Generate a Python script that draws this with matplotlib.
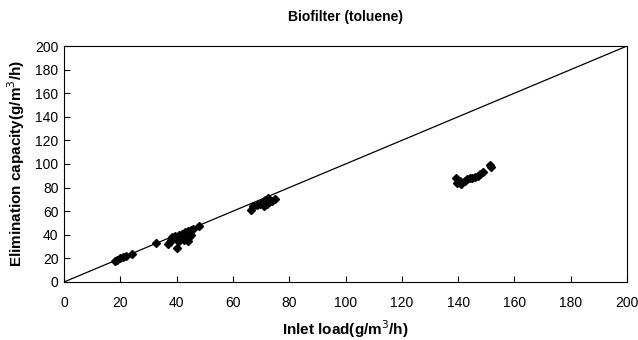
import matplotlib.pyplot as plt

plt.rcParams['font.family'] = ['Liberation Sans Narrow', 'Liberation Sans', 'DejaVu Sans']

# inlet load (g/m3/h) vs elimination capacity (g/m3/h)
inlet_load = [18, 19, 20, 21, 22, 24,
              32.7,
              37, 37.5, 38, 38.5, 39, 39.5, 40, 40, 40.5, 41, 41, 41.5, 42, 42,
              42.5, 43, 43, 43.5, 44, 44, 44.5, 45, 45, 46, 48,
              66.5, 67, 68.5, 69.5, 70.3, 71, 71.5, 72, 72.5, 73, 74, 75,
              139.3, 139.6, 140.5, 141, 142.4, 143, 144.2, 145, 146, 147, 147.8, 149, 151.3, 151.7]
elim_capacity = [17.5, 19, 20, 21.5, 22, 24,
                 33,
                 32, 34, 36, 38, 37, 39, 36, 29, 38, 40, 35, 37, 39, 41,
                 36, 38, 42, 40, 35, 43, 38, 44, 40, 45, 47.5,
                 61, 64, 65, 66, 67, 64, 69.5, 66, 71, 68, 68.6, 70,
                 88, 84, 86, 83, 85.6, 87, 88, 88.5, 89, 90, 91.5, 93, 99.2, 97.5]
line_x = [0, 200]
line_y = [0, 200]

fig = plt.figure(figsize=(6.38, 3.4), dpi=100)
ax = fig.add_axes([0.1003, 0.1706, 0.8825, 0.6941])

ax.plot(line_x, line_y, color='black', linewidth=0.9)
ax.plot(inlet_load, elim_capacity, linestyle='none', marker='D',
        markersize=4.5, color='black')

ax.set_xlim(0, 200)
ax.set_ylim(0, 200)
ax.set_xticks(range(0, 201, 20))
ax.set_yticks(range(0, 201, 20))
ax.tick_params(direction='in', length=4, labelsize=10, pad=10, width=0.8)
ax.tick_params(axis='y', pad=4)
for s in ax.spines.values():
    s.set_linewidth(0.8)

ax.set_title('Biofilter (toluene)', fontsize=10, fontweight='bold', pad=18)
ax.set_xlabel('Inlet load(g/m$^3$/h)', fontsize=11, fontweight='bold', labelpad=6)
ax.set_ylabel('Elimination capacity(g/m$^3$/h)', fontsize=11, fontweight='bold', labelpad=6)

fig.savefig('out.png', dpi=100)
